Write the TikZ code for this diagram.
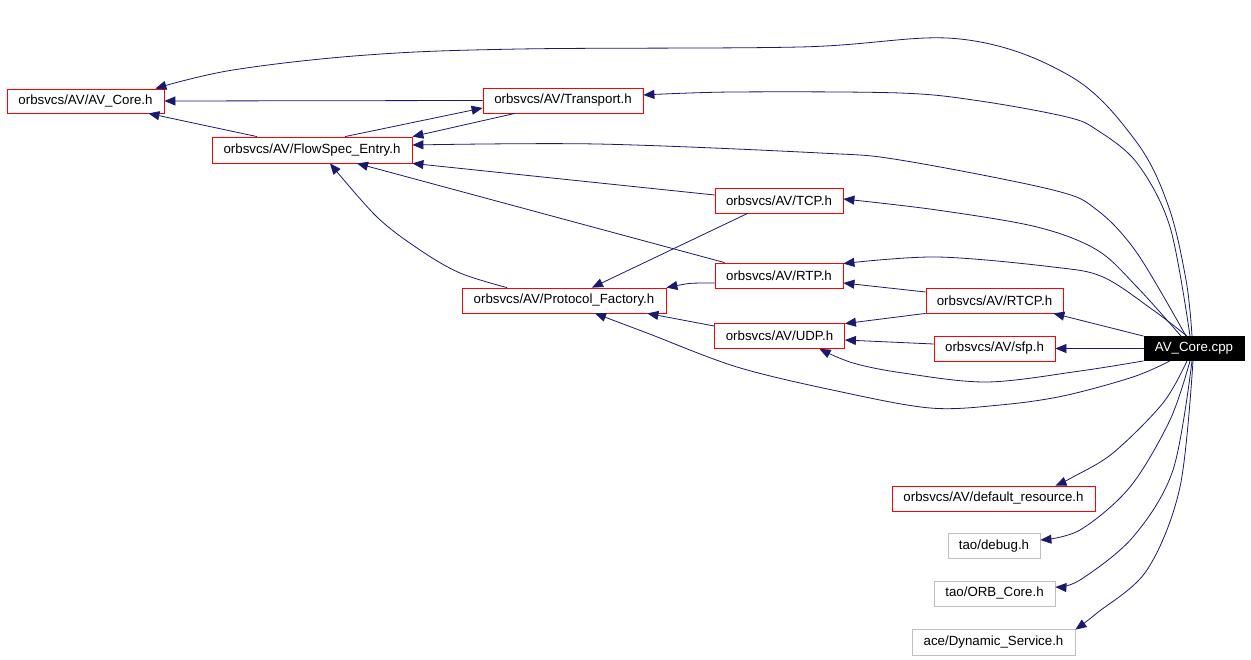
\documentclass[tikz,border=0pt]{standalone}
\usepackage{fontspec}
\setmainfont{Liberation Sans}
\usetikzlibrary{arrows.meta,calc}
\definecolor{edgec}{HTML}{191970}
\begin{document}
\begin{tikzpicture}[x=1pt,y=-1pt,
  box/.style={draw=red,line width=0.8pt,inner sep=0pt,font=\fontsize{13.3}{16}\selectfont,minimum height=25pt},
  gbox/.style={box,draw=gray!50},
  edge/.style={draw=edgec,line width=0.8pt,-{Triangle[length=11pt,width=9pt]}},
  sm/.style={smooth,tension=0.55}]
\useasboundingbox (0,0) rectangle (1251,660);
% nodes
\node[box,minimum width=157pt,minimum height=24pt] (avcoreh) at (85.5,101) {orbsvcs/AV/AV\_Core.h};
\node[box,minimum width=160pt] (transport) at (563,100.5) {orbsvcs/AV/Transport.h};
\node[box,minimum width=200pt,minimum height=26pt] (flowspec) at (312,150) {orbsvcs/AV/FlowSpec\_Entry.h};
\node[box,minimum width=128pt] (tcp) at (779,200.5) {orbsvcs/AV/TCP.h};
\node[box,minimum width=128pt] (rtp) at (779,275.5) {orbsvcs/AV/RTP.h};
\node[box,minimum width=204pt] (protofac) at (564,300.5) {orbsvcs/AV/Protocol\_Factory.h};
\node[box,minimum width=137pt] (rtcp) at (994.5,300.5) {orbsvcs/AV/RTCP.h};
\node[box,minimum width=130pt] (udp) at (779.5,336) {orbsvcs/AV/UDP.h};
\node[box,minimum width=121pt] (sfp) at (994.5,348.5) {orbsvcs/AV/sfp.h};
\node[box,draw=black,fill=black,text=white,minimum width=100pt,minimum height=24pt] (cpp) at (1194,348.5) {AV\_Core.cpp};
\node[box,minimum width=203pt] (defres) at (993.5,498.5) {orbsvcs/AV/default\_resource.h};
\node[gbox,minimum width=92pt] (debug) at (994,546) {tao/debug.h};
\node[gbox,minimum width=121pt] (orbcore) at (994.5,593.5) {tao/ORB\_Core.h};
\node[gbox,minimum width=163pt,minimum height=26pt] (dynserv) at (993.5,642) {ace/Dynamic\_Service.h};
% edges from AV_Core.cpp
\draw[edge] plot[smooth,tension=0.6] coordinates {($(cpp.north)+(-2,0)$) (1186,280) (1168,205) (1135,140) (1070,76) (960,39) (800,47) (520,49) (367,55) (233,70) ($(avcoreh.north east)+(-9,0)$)};
\draw[edge] plot[sm] coordinates {($(cpp.north)+(-4,0)$) (1170,227) (1137,163) (1097,130) (1067,117) (980,101) (900,93) (733,92) ($(transport.east)+(0,-5.5)$)};
\draw[edge] plot[sm] coordinates {($(cpp.north)+(-8,0)$) (1137,253) (1097,210) (1053,190) (900,160) (820,153) (597,144) ($(flowspec.east)+(0,-5)$)};
\draw[edge] plot[sm] coordinates {($(cpp.north)+(-13,0)$) (1137,287) (1097,250) (1037,227) (937,210) ($(tcp.east)+(0,-1.5)$)};
\draw[edge] plot[sm] coordinates {($(cpp.north)+(-7,0)$) (1153,310) (1103,277) (1053,267) (937,257) ($(rtp.north east)+(0,1)$)};
\draw[edge] (cpp.north west) -- ($(rtcp.south east)+(-10,0)$);
\draw[edge] (cpp.west) -- (sfp.east);
\draw[edge] plot[sm] coordinates {(cpp.south west) (1080,371) (987,382) (903,373) (853,363) ($(udp.south)+(40,0)$)};
\draw[edge] plot[sm] coordinates {($(cpp.south)+(-24,0)$) (1133,377) (1063,396) (1000,405) (930,408) (837,391) (737,367) (647,333) ($(protofac.south)+(31,0)$)};
\draw[edge] plot[sm] coordinates {($(cpp.south)+(-7,0)$) (1163,403) (1113,453) (1073,477) ($(defres.north east)+(-40,0)$)};
\draw[edge] plot[sm] coordinates {($(cpp.south)+(-4,0)$) (1170,420) (1130,487) (1080,530) ($(debug.east)+(0,-6)$)};
\draw[edge] plot[sm] coordinates {($(cpp.south)+(-2,0)$) (1173,470) (1133,537) (1080,580) ($(orbcore.east)+(0,-6.5)$)};
\draw[edge] plot[sm] coordinates {($(cpp.south)+(-1,0)$) (1180,487) (1147,570) (1097,613) ($(dynserv.north east)+(0,1)$)};
% other edges
\draw[edge] (transport.west) -- (avcoreh.east);
\draw[edge] ($(flowspec.north)+(-55,0)$) -- ($(avcoreh.south east)+(-16,0)$);
\draw[edge] ($(flowspec.north)+(33,0)$) -- ($(transport.west)+(0,7.5)$);
\draw[edge] ($(transport.south)+(-48,0)$) -- (flowspec.north east);
\draw[edge] ($(tcp.west)+(0,-5.5)$) -- (flowspec.south east);
\draw[edge] ($(rtp.north west)+(10,0)$) -- ($(flowspec.south)+(45,0)$);
\draw[edge] plot[sm] coordinates {($(protofac.north)+(-57,0)$) (460,273) (420,250) (377,217) ($(flowspec.south)+(18,0)$)};
\draw[edge] ($(tcp.south west)+(33,0)$) -- ($(protofac.north)+(28,0)$);
\draw[edge] ($(rtp.west)+(0,7.5)$) .. controls (690,283) .. (protofac.north east);
\draw[edge] ($(udp.west)+(0,-10)$) -- ($(protofac.south east)+(-19,0)$);
\draw[edge] ($(rtcp.west)+(0,-8.5)$) -- ($(rtp.east)+(0,7.5)$);
\draw[edge] (rtcp.south west) -- ($(udp.north east)+(0,0.5)$);
\draw[edge] ($(sfp.west)+(0,-4.5)$) -- ($(udp.east)+(0,4)$);
\end{tikzpicture}
\end{document}
